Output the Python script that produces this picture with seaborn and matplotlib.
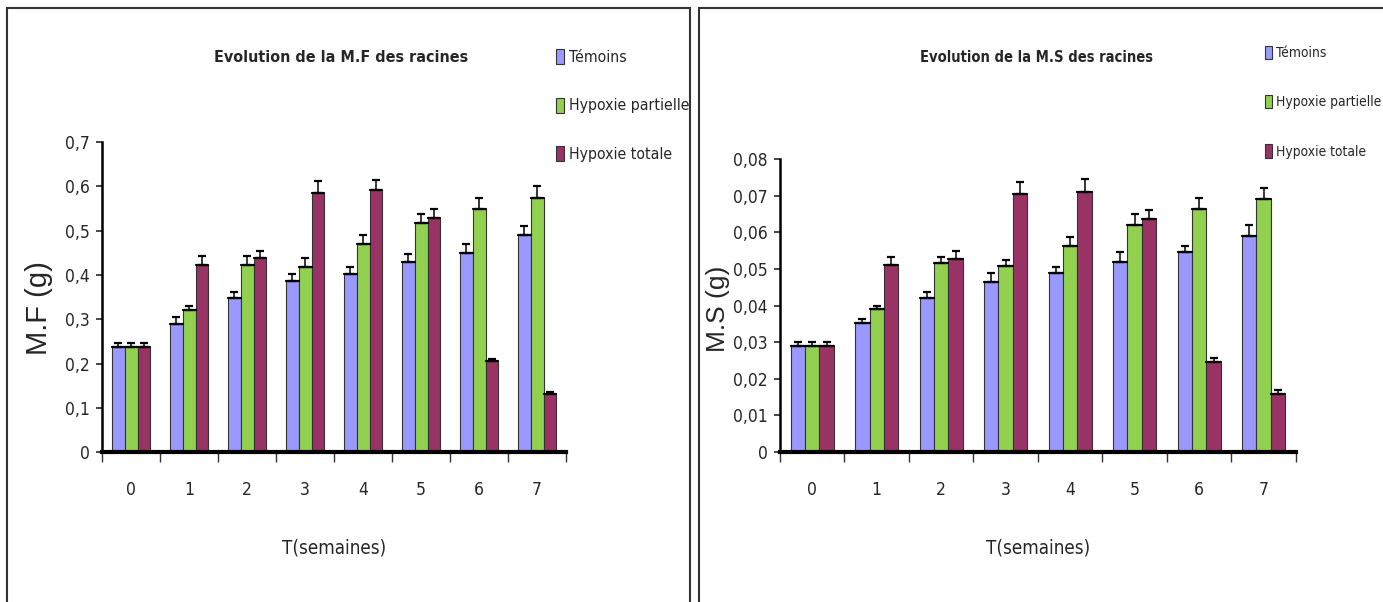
import matplotlib
matplotlib.use("Agg")
import matplotlib.pyplot as plt
import numpy as np
import pandas as pd
import seaborn as sns
from matplotlib import font_manager as fm
from matplotlib.patches import Rectangle

weeks = ["0", "1", "2", "3", "4", "5", "6", "7"]
groups = ["Témoins", "Hypoxie partielle", "Hypoxie totale"]

# masse fraiche (g)
mf_temoins = [0.237, 0.290, 0.347, 0.386, 0.402, 0.430, 0.450, 0.490]
mf_partielle = [0.237, 0.320, 0.423, 0.418, 0.470, 0.517, 0.549, 0.574]
mf_totale = [0.237, 0.423, 0.438, 0.586, 0.591, 0.528, 0.206, 0.132]
mf_err_temoins = [0.010, 0.015, 0.014, 0.015, 0.015, 0.018, 0.020, 0.020]
mf_err_partielle = [0.010, 0.010, 0.020, 0.020, 0.020, 0.020, 0.024, 0.026]
mf_err_totale = [0.010, 0.020, 0.015, 0.025, 0.024, 0.020, 0.004, 0.004]

# masse seche (g)
ms_temoins = [0.0290, 0.0352, 0.0420, 0.0463, 0.0488, 0.0520, 0.0545, 0.0590]
ms_partielle = [0.0290, 0.0390, 0.0515, 0.0507, 0.0563, 0.0620, 0.0663, 0.0690]
ms_totale = [0.0290, 0.0510, 0.0528, 0.0703, 0.0709, 0.0635, 0.0246, 0.0159]
ms_err_temoins = [0.0010, 0.0010, 0.0018, 0.0025, 0.0018, 0.0025, 0.0017, 0.0030]
ms_err_partielle = [0.0010, 0.0010, 0.0017, 0.0017, 0.0025, 0.0030, 0.0030, 0.0030]
ms_err_totale = [0.0010, 0.0022, 0.0022, 0.0035, 0.0035, 0.0027, 0.0010, 0.0010]

PALETTE = ["#9999FF", "#92D050", "#993366"]

sns.set_style("white")
plt.rcParams["font.family"] = ["Liberation Sans", "DejaVu Sans"]


def find_font(keys, bold=False):
    # look for a narrow / condensed face among the installed files
    for key in keys:
        for f in fm.fontManager.ttflist:
            name = f.fname.split("/")[-1].lower()
            if key.lower() not in name or "italic" in name or "oblique" in name:
                continue
            if bold == ("bold" in name):
                return f.fname
    return None


reg_path = find_font(["LiberationSansNarrow", "DejaVuSansCondensed", "Condensed", "Narrow"])
bold_path = find_font(["LiberationSansNarrow", "DejaVuSansCondensed", "Condensed", "Narrow"], bold=True)


def fp(size, bold=False):
    path = bold_path if bold else reg_path
    if path:
        return fm.FontProperties(fname=path, size=size)
    return fm.FontProperties(family="Liberation Sans", size=size * 0.85,
                             weight="bold" if bold else "normal")


def make_df(vals, errs):
    rows = []
    for g, v, e in zip(groups, vals, errs):
        for w, y, s in zip(weeks, v, e):
            rows.append({"semaine": w, "groupe": g, "valeur": y, "err": s})
    return pd.DataFrame(rows)


def draw_panel(ax, df, ylabel, ylabel_size, ymax, ystep, ndec, ylab_xy,
               legend_xy, legend_size, legend_space):
    sns.barplot(
        data=df, x="semaine", y="valeur", hue="groupe", order=weeks,
        hue_order=groups, palette=PALETTE, width=0.67, gap=0,
        errorbar=None, edgecolor="#333333", linewidth=0.8, saturation=1,
        ax=ax,
    )
    # upward error bars from the bar patches
    for patch, (_, row) in zip(ax.patches, df.iterrows()):
        xc = patch.get_x() + patch.get_width() / 2
        ax.errorbar(xc, row["valeur"], yerr=[[0], [row["err"]]], fmt="none",
                    ecolor="black", elinewidth=1.1, capsize=3, capthick=1.6)
        ax.plot([patch.get_x(), patch.get_x() + patch.get_width()],
                [row["valeur"]] * 2, color="black", lw=1.6)
    ax.set_xlim(-0.5, 7.5)
    ax.set_ylim(0, ymax)
    ticks = np.arange(0, ymax + ystep / 2, ystep)
    ax.set_yticks(ticks)
    ax.set_yticklabels(["0"] + [f"{t:.{ndec}f}".replace(".", ",") for t in ticks[1:]])
    ax.set_xticks(range(8))
    ax.set_xticks(np.arange(-0.5, 8, 1), minor=True)
    ax.tick_params(axis="x", which="major", length=0, pad=21)
    ax.tick_params(axis="x", which="minor", length=7, width=1, color="#333333",
                   direction="out", bottom=True)
    ax.tick_params(axis="y", length=4, width=1.2, direction="out", left=True, pad=5)
    for lab in ax.get_xticklabels() + ax.get_yticklabels():
        lab.set_fontproperties(fp(12.5))
    for s in ["top", "right"]:
        ax.spines[s].set_visible(False)
    ax.spines["bottom"].set_linewidth(3)
    ax.spines["left"].set_linewidth(1.8)
    ax.spines["bottom"].set_color("black")
    ax.spines["left"].set_color("black")
    ax.set_xlabel("T(semaines)", fontproperties=fp(13.5), labelpad=28)
    ax.set_ylabel(ylabel, fontsize=ylabel_size, family="Liberation Sans")
    ax.yaxis.set_label_coords(*ylab_xy)
    handles, labels = ax.get_legend_handles_labels()
    ax.legend(handles, labels, loc="upper left", bbox_to_anchor=legend_xy,
              bbox_transform=ax.figure.transFigure, frameon=False,
              prop=fp(legend_size), labelspacing=legend_space, handlelength=0.5,
              handleheight=1.1, handletextpad=0.3, borderaxespad=0, borderpad=0)


fig = plt.figure(figsize=(13.83, 6.02), dpi=100)
ax1 = fig.add_axes([0.0738, 0.249, 0.3355, 0.515])
ax2 = fig.add_axes([0.564, 0.249, 0.373, 0.487])

draw_panel(ax1, make_df([mf_temoins, mf_partielle, mf_totale],
                        [mf_err_temoins, mf_err_partielle, mf_err_totale]),
           "M.F (g)", 21, 0.7, 0.1, 1, (-0.106, 0.465), (0.402, 0.919), 11.3, 2.1)
draw_panel(ax2, make_df([ms_temoins, ms_partielle, ms_totale],
                        [ms_err_temoins, ms_err_partielle, ms_err_totale]),
           "M.S (g)", 19, 0.08, 0.01, 2, (-0.097, 0.49), (0.9147, 0.924), 9.9, 2.55)

fig.text(341 / 1383, 0.905, "Evolution de la M.F des racines", ha="center",
         va="center", fontproperties=fp(11.5, bold=True))
fig.text(1036 / 1383, 0.905, "Evolution de la M.S des racines", ha="center",
         va="center", fontproperties=fp(10.5, bold=True))

# frames around the two panels
fig.patches.append(Rectangle((7 / 1383, -0.01), 683 / 1383, 1 - 8 / 602 + 0.01,
                             transform=fig.transFigure, fill=False,
                             edgecolor="#333333", lw=1.5))
fig.patches.append(Rectangle((699 / 1383, -0.01), 690 / 1383, 1 - 8 / 602 + 0.01,
                             transform=fig.transFigure, fill=False,
                             edgecolor="#333333", lw=1.5))

fig.savefig("out.png", dpi=100)
